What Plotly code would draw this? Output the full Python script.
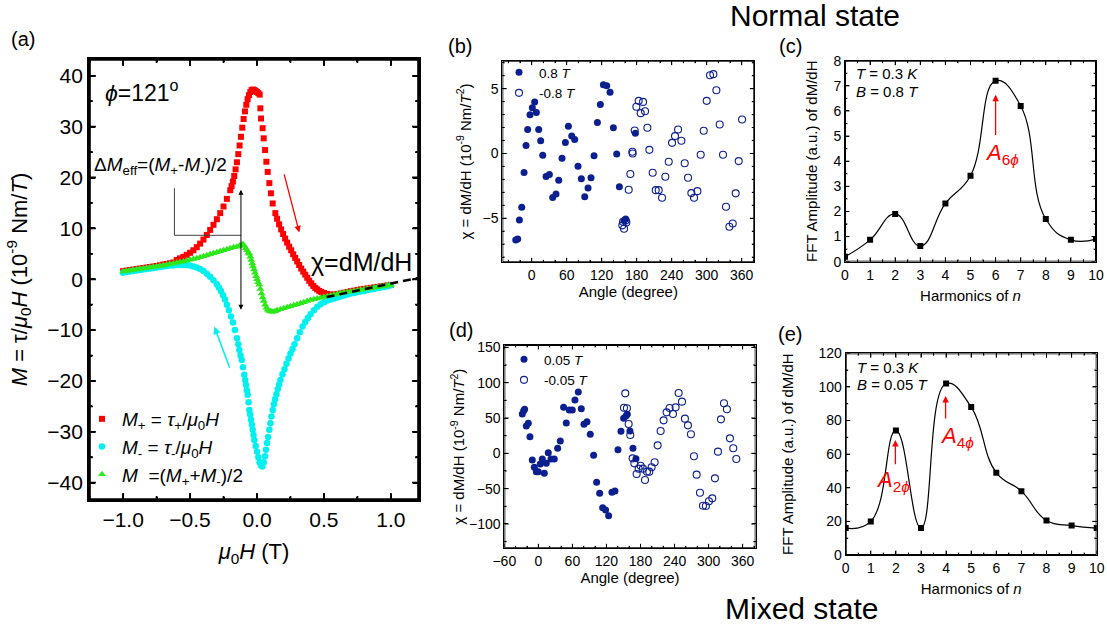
import plotly.graph_objects as go

FONT = "Liberation Sans, Arial, sans-serif"

# ---------------- Panel (a): M vs mu0H ----------------
Hp = [-1.000,-0.975,-0.950,-0.925,-0.900,-0.875,-0.850,-0.825,-0.800,-0.775,-0.750,-0.725,-0.700,-0.675,-0.650,-0.625,
      -0.600,-0.575,-0.550,-0.525,-0.500,-0.475,-0.450,-0.425,-0.400,-0.375,-0.350,-0.325,-0.300,-0.275,-0.250,-0.225,
      -0.200,-0.190,-0.180,-0.170,-0.160,-0.150,-0.140,-0.130,-0.120,-0.110,-0.100,-0.090,-0.080,-0.070,-0.060,-0.050,
      -0.040,-0.030,-0.020,-0.010,0.000,0.010,0.020,0.025,0.030,0.042,0.050,0.060,0.070,0.080,0.092,0.104,0.117,0.137,
      0.150,0.165,0.180,0.195,0.210,0.225,0.240,0.255,0.270,0.285,0.300,0.315,0.330,0.345,0.360,0.375,0.390,0.405,
      0.420,0.435,0.450,0.465,0.480,0.500,0.525,0.550,0.575,0.600,0.625,0.650,0.675,0.700,0.725,0.750,0.775,0.800,
      0.825,0.850,0.875,0.900,0.925,0.950,0.975,1.000]
Mp = [1.6,1.7,1.8,1.9,2.0,2.1,2.2,2.3,2.4,2.5,2.6,2.75,2.9,3.0,3.15,3.3,
      3.8,4.1,4.4,4.8,5.2,5.7,6.3,7.0,7.8,8.7,9.7,10.7,11.8,13.0,14.3,15.8,
      17.5,18.3,19.2,20.3,21.6,23.0,24.6,26.3,28.0,29.8,31.5,33.0,34.3,35.4,36.2,36.8,
      37.2,37.3,37.2,37.0,36.8,36.6,36.3,33.6,31.6,29.7,27.7,25.4,23.1,21.1,18.9,16.9,14.9,13.0,
      11.9,10.8,9.8,8.9,8.0,7.2,6.4,5.7,4.9,4.2,3.5,2.8,2.1,1.5,0.9,0.3,-0.3,-0.8,
      -1.3,-1.7,-2.0,-2.3,-2.5,-2.7,-2.9,-3.0,-3.0,-2.9,-2.8,-2.65,-2.5,-2.35,-2.25,-2.1,-2.0,-1.9,
      -1.8,-1.7,-1.6,-1.5,-1.4,-1.3,-1.2,-1.1]

Hm = [-1.000,-0.975,-0.950,-0.925,-0.900,-0.875,-0.850,-0.825,-0.800,-0.775,-0.750,-0.725,-0.700,-0.675,-0.650,-0.625,
      -0.600,-0.575,-0.550,-0.525,-0.500,-0.475,-0.450,-0.425,-0.400,-0.375,-0.350,-0.325,-0.300,-0.285,-0.270,-0.255,
      -0.240,-0.225,-0.210,-0.195,-0.180,-0.165,-0.150,-0.140,-0.132,-0.123,-0.114,-0.105,-0.095,-0.088,-0.082,-0.076,
      -0.070,-0.063,-0.057,-0.051,-0.045,-0.038,-0.032,-0.026,-0.020,-0.010,0.000,0.010,0.020,0.030,0.040,0.050,0.060,
      0.067,0.075,0.083,0.092,0.100,0.108,0.117,0.126,0.135,0.145,0.155,0.165,0.175,0.190,0.205,0.220,0.235,0.250,
      0.265,0.280,0.300,0.320,0.340,0.360,0.380,0.400,0.425,0.450,0.475,0.500,0.525,0.550,0.575,0.600,0.625,0.650,
      0.675,0.700,0.725,0.750,0.775,0.800,0.825,0.850,0.875,0.900,0.925,0.950,0.975,1.000]
Mm = [1.3,1.4,1.5,1.6,1.7,1.8,1.9,2.0,2.1,2.2,2.3,2.4,2.5,2.6,2.7,2.7,
      2.8,2.8,2.8,2.8,2.7,2.5,2.3,2.0,1.6,1.1,0.5,-0.2,-1.0,-1.6,-2.3,-3.1,
      -4.0,-5.0,-6.1,-7.3,-8.5,-10.0,-11.6,-12.8,-13.9,-15.0,-15.9,-17.3,-18.8,-19.8,-20.8,-21.8,
      -22.7,-24.2,-25.7,-26.6,-27.6,-28.6,-29.6,-30.6,-31.6,-32.8,-33.9,-35.0,-36.0,-36.6,-36.8,-36.0,-34.8,
      -33.5,-32.2,-31.0,-29.6,-28.3,-27.0,-25.7,-24.6,-23.6,-22.6,-21.6,-20.7,-19.8,-18.7,-17.7,-16.6,-15.6,-14.6,
      -13.7,-12.8,-11.6,-10.4,-9.3,-8.4,-7.6,-6.9,-6.1,-5.4,-4.9,-4.5,-4.2,-4.0,-3.8,-3.6,-3.4,-3.2,
      -3.0,-2.8,-2.7,-2.5,-2.4,-2.3,-2.1,-2.0,-1.9,-1.7,-1.6,-1.5,-1.4,-1.2]

Hav = [-1.000,-0.975,-0.950,-0.925,-0.900,-0.875,-0.850,-0.825,-0.800,-0.775,-0.750,-0.725,-0.700,-0.675,-0.650,-0.625,
       -0.600,-0.575,-0.550,-0.525,-0.500,-0.475,-0.450,-0.425,-0.400,-0.375,-0.350,-0.325,-0.300,-0.275,-0.250,-0.225,
       -0.200,-0.175,-0.150,-0.130,-0.115,-0.105,-0.095,-0.085,-0.075,-0.065,-0.057,-0.050,-0.043,-0.036,-0.030,-0.022,
       -0.015,-0.007,0.000,0.008,0.017,0.025,0.034,0.042,0.050,0.060,0.070,0.080,0.090,0.100,0.110,0.120,0.135,0.150,
       0.175,0.200,0.225,0.250,0.275,0.300,0.325,0.350,0.375,0.400,0.425,0.450,0.475,0.500,0.525,0.550,0.575,0.600,
       0.625,0.650,0.675,0.700,0.725,0.750,0.775,0.800,0.825,0.850,0.875,0.900,0.925,0.950,0.975,1.000]
Mav = [1.5,1.6,1.7,1.8,1.9,2.0,2.1,2.2,2.3,2.4,2.5,2.6,2.7,2.85,3.0,3.1,
       3.25,3.4,3.5,3.7,3.85,4.0,4.15,4.3,4.5,4.7,4.9,5.1,5.3,5.5,5.7,5.9,
       6.1,6.3,6.4,6.6,6.8,6.9,6.6,6.1,5.7,5.2,5.0,4.4,3.8,3.1,2.5,1.9,
       1.3,0.6,0.0,-0.6,-1.1,-1.9,-2.8,-3.6,-4.3,-5.0,-5.6,-6.0,-6.2,-6.3,-6.4,-6.4,-6.3,-6.1,
       -5.9,-5.7,-5.5,-5.3,-5.1,-4.9,-4.7,-4.5,-4.3,-4.1,-3.95,-3.8,-3.65,-3.5,-3.35,-3.2,-3.05,-2.9,
       -2.75,-2.6,-2.5,-2.4,-2.3,-2.2,-2.05,-1.95,-1.85,-1.75,-1.65,-1.55,-1.45,-1.35,-1.25,-1.15]

chi_fit_H = [0.52, 1.21]
chi_fit_M = [-3.5, 0.3]

# ---------------- Panel (b): chi vs angle, 0.8 T ----------------
ang_b_pos = [-27.4,-24.0,-21.1,-17.1,-13.1,-9.7,-6.9,-2.9,1.1,5.1,8.0,12.0,15.4,18.9,24.6,30.3,36.0,41.7,46.3,52.0,
             57.7,62.9,68.6,73.7,79.4,85.1,90.9,96.6,101.7,106.9,112.6,117.7,122.9,128.6,134.3,140.0,145.7,150.3,
             158.3,161.1,177.7]
chi_b_pos = [-6.68,-6.60,-5.14,-4.16,-1.47,0.62,1.85,2.98,3.52,3.98,3.16,1.85,0.98,-0.13,-1.77,-1.62,-3.39,-3.13,-2.06,-0.36,
             0.85,2.11,1.34,1.08,-0.98,-1.95,-3.34,-2.67,-1.88,-0.18,2.39,3.78,5.30,5.22,4.73,1.98,-0.05,-2.57,
             -5.17,-5.06,1.57]
ang_b_neg = [155.4,158.3,156.6,161.1,162.3,166.3,169.1,172.6,173.1,176.6,179.4,183.4,186.9,190.9,194.3,198.3,201.7,207.4,
             212.6,217.7,223.4,229.1,234.9,240.6,245.7,250.9,256.6,262.3,268.0,273.7,278.3,284.0,289.7,294.9,300.0,
             305.7,311.4,316.6,322.3,328.0,333.1,338.9,344.6,349.7,354.9,360.6]
chi_b_neg = [-5.55,-5.81,-5.27,-5.17,-5.32,-2.80,-1.59,0.13,0.0,1.77,3.60,4.06,3.11,3.98,3.26,1.98,0.28,-1.49,
             -2.83,-2.83,-3.42,-1.80,-0.64,0.82,1.34,1.85,0.98,-0.75,-1.88,-3.06,-3.42,-2.91,-0.10,1.75,4.06,
             6.04,6.12,4.88,2.24,-0.10,-4.11,-5.66,-5.40,-3.08,-0.59,2.62]

# ---------------- Panel (d): chi vs angle, 0.05 T ----------------
ang_d_pos = [-28.3,-25.9,-24.2,-21.2,-17.7,-14.8,-10.7,-7.1,-3.6,-0.1,3.4,7.0,10.5,14.0,17.5,22.2,28.1,34.0,38.7,44.5,
             49.2,54.5,59.8,64.5,70.4,75.7,80.4,85.7,91.5,97.4,102.7,108.0,113.3,118.5,123.8,129.7,135.0,140.3,145.6,
             150.3,154.4,156.7,161.4,166.7,172.0]
chi_d_pos = [55.7,60.4,62.3,38.7,42.5,23.6,-9.4,-19.8,-25.9,-25.9,-15.1,-8.0,-28.3,-14.2,0.9,-8.0,-8.0,7.1,17.5,65.1,
             42.9,61.3,61.3,75.5,86.8,63.2,41.0,44.8,26.9,-2.8,-41.0,-56.6,-76.9,-80.2,-88.2,-55.2,-53.3,5.2,31.1,
             49.5,52.8,55.2,31.6,7.1,-7.5]
ang_d_neg = [150.9,153.2,156.1,159.1,162.0,166.1,169.1,173.2,176.7,180.2,184.3,187.9,191.4,195.5,199.6,204.9,210.2,
             215.5,220.7,226.0,231.3,237.2,241.9,247.2,253.1,258.3,263.6,268.9,274.2,278.9,284.8,290.1,295.3,300.6,
             306.5,311.2,316.5,321.8,327.1,332.3,337.6,343.5,348.8]
chi_d_neg = [64.6,84.9,63.7,41.5,25.9,-7.1,-14.2,-29.2,-21.7,-17.5,-21.7,-37.7,-25.9,-25.9,-19.8,-12.7,11.3,
             31.6,46.7,58.0,64.2,55.7,65.1,85.4,73.1,49.1,39.6,26.9,-4.2,-30.2,-55.7,-74.1,-74.5,-67.9,
             -63.7,-35.4,2.4,48.1,70.8,62.3,21.2,7.1,-8.0]

# ---------------- Panels (c), (e): FFT amplitudes ----------------
harm_n = [0, 1, 2, 3, 4, 5, 6, 7, 8, 9, 10]
fft_normal = [0.2, 0.87, 1.9, 0.62, 2.32, 3.42, 7.2, 6.2, 1.7, 0.87, 0.9]
fft_mixed = [16, 20, 74, 16, 102, 88, 49, 38, 20.5, 17.5, 16]

RED = "#ff0000"
CYAN = "#00f0f0"
GREEN = "#2de81a"
NAVY = "#0b1f8f"

fig = go.Figure()

# Panel (a)
fig.add_trace(go.Scatter(x=Hp, y=Mp, mode="markers", xaxis="x", yaxis="y",
                         marker=dict(symbol="square", size=6, color=RED),
                         name="<i>M</i><sub>+</sub> = <i>τ</i><sub>+</sub>/<i>μ</i><sub>0</sub><i>H</i>", legend="legend"))
fig.add_trace(go.Scatter(x=Hm, y=Mm, mode="markers", xaxis="x", yaxis="y",
                         marker=dict(symbol="circle", size=6.5, color=CYAN),
                         name="<i>M</i><sub>-</sub> = <i>τ</i><sub>-</sub>/<i>μ</i><sub>0</sub><i>H</i>", legend="legend"))
fig.add_trace(go.Scatter(x=Hav, y=Mav, mode="markers", xaxis="x", yaxis="y",
                         marker=dict(symbol="triangle-up", size=7, color=GREEN),
                         name="<i>M</i>\u00a0\u00a0=(<i>M</i><sub>+</sub>+<i>M</i><sub>-</sub>)/2", legend="legend"))
fig.add_trace(go.Scatter(x=chi_fit_H, y=chi_fit_M, mode="lines", xaxis="x", yaxis="y",
                         line=dict(color="black", width=2.5, dash="8px,5px"), showlegend=False))

# Panel (b)
fig.add_trace(go.Scatter(x=ang_b_pos, y=chi_b_pos, mode="markers", xaxis="x2", yaxis="y2",
                         marker=dict(symbol="circle", size=7, color=NAVY),
                         name="0.8 <i>T</i>", legend="legend2"))
fig.add_trace(go.Scatter(x=ang_b_neg, y=chi_b_neg, mode="markers", xaxis="x2", yaxis="y2",
                         marker=dict(symbol="circle-open", size=7, color=NAVY, line=dict(width=1.1)),
                         name="-0.8 <i>T</i>", legend="legend2"))

# Panel (c)
fig.add_trace(go.Scatter(x=harm_n, y=fft_normal, mode="lines", xaxis="x3", yaxis="y3",
                         line=dict(color="black", width=1.2, shape="spline", smoothing=1.3), showlegend=False))
fig.add_trace(go.Scatter(x=harm_n, y=fft_normal, mode="markers", xaxis="x3", yaxis="y3",
                         marker=dict(symbol="square", size=6, color="black"), showlegend=False))

# Panel (d)
fig.add_trace(go.Scatter(x=ang_d_pos, y=chi_d_pos, mode="markers", xaxis="x4", yaxis="y4",
                         marker=dict(symbol="circle", size=7, color=NAVY),
                         name="0.05 <i>T</i>", legend="legend3"))
fig.add_trace(go.Scatter(x=ang_d_neg, y=chi_d_neg, mode="markers", xaxis="x4", yaxis="y4",
                         marker=dict(symbol="circle-open", size=7, color=NAVY, line=dict(width=1.1)),
                         name="-0.05 <i>T</i>", legend="legend3"))

# Panel (e)
fig.add_trace(go.Scatter(x=harm_n, y=fft_mixed, mode="lines", xaxis="x5", yaxis="y5",
                         line=dict(color="black", width=1.2, shape="spline", smoothing=1.3), showlegend=False))
fig.add_trace(go.Scatter(x=harm_n, y=fft_mixed, mode="markers", xaxis="x5", yaxis="y5",
                         marker=dict(symbol="square", size=6, color="black"), showlegend=False))


def axis(domain, rng, tick0, dtick, fmt, minor_dtick, lw, tl, mtl, fs, title, tfs, standoff, anchor):
    return dict(domain=domain, range=rng, anchor=anchor,
                tickmode="linear", tick0=tick0, dtick=dtick, tickformat=fmt,
                showline=True, linecolor="black", linewidth=lw, mirror="allticks",
                ticks="inside", ticklen=tl, tickwidth=lw, tickcolor="black",
                showgrid=False, zeroline=False, automargin=False,
                tickfont=dict(size=fs, family=FONT, color="black"),
                minor=dict(ticks="inside", ticklen=mtl, tickwidth=lw, tickcolor="black",
                           dtick=minor_dtick, showgrid=False),
                title=dict(text=title, font=dict(size=tfs, family=FONT, color="black"), standoff=standoff))


W, Hh = 1107, 627
def dx(a, b):
    return [a / W, b / W]
def dy(top, bot):
    return [1 - bot / Hh, 1 - top / Hh]

layout = dict(width=W, height=Hh, margin=dict(l=0, r=0, t=0, b=0),
              paper_bgcolor="white", plot_bgcolor="rgba(0,0,0,0)",
              font=dict(family=FONT, color="black"), showlegend=True)

# axis specs: anchor, domain, range, tick0, dtick, fmt, minor dtick, line width, tick len, minor len, font, title, title size, standoff
AX = {
    "xaxis":  ("y",  dx(89, 419), [-1.255, 1.21], -1.0, 0.5, ".1f", 0.25, 1.8, 6, 3, 21,
               "<i>μ</i><sub>0</sub><i>H</i> (T)", 22, 14),
    "yaxis":  ("x",  dy(59, 500), [-43.4, 43.3], 0, 10, "d", 5, 1.8, 6, 3, 21,
               "<i>M</i> = τ/<i>μ</i><sub>0</sub><i>H</i> (10<sup>-9</sup> Nm/<i>T</i>)", 22, 14),
    "xaxis2": ("y2", dx(502.3, 754.3), [-50.4, 381.6], 0, 60, "d", 20, 1, 4, 2, 14, "Angle (degree)", 15, 0),
    "yaxis2": ("x2", dy(60.7, 262.3), [-8.4, 7.16], 0, 5, "d", 1, 1, 4, 2, 14,
               "χ = dM/dH (10<sup>-9</sup> Nm/<i>T</i><sup>2</sup>)", 15, 7),
    "xaxis3": ("y3", dx(845, 1096), [0, 10], 0, 1, "d", 0.5, 1, 4, 2, 14, "Harmonics of <i>n</i>", 15, 8),
    "yaxis3": ("x3", dy(60.7, 261.7), [0, 8], 0, 1, "d", 0.5, 1, 4, 2, 14, "FFT Amplitude (a.u.) of dM/dH", 15, 12),
    "xaxis4": ("y4", dx(504.3, 755.7), [-60, 383], -60, 60, "d", 20, 1, 4, 2, 14, "Angle (degree)", 15, 4),
    "yaxis4": ("x4", dy(345, 548.3), [-134.4, 153.3], 0, 50, "d", 25, 1, 4, 2, 14,
               "χ = dM/dH (10<sup>-9</sup> Nm/<i>T</i><sup>2</sup>)", 15, 0),
    "xaxis5": ("y5", dx(845.7, 1096.7), [0, 10], 0, 1, "d", 0.5, 1, 4, 2, 14, "Harmonics of <i>n</i>", 15, 8),
    "yaxis5": ("x5", dy(353.3, 555), [0, 120], 0, 20, "d", 10, 1, 4, 2, 14, "FFT Amplitude (a.u.) of dM/dH", 15, 21),
}
for name, spec in AX.items():
    anchor, dom, rng, t0, dt, fmt, mdt, lw, tl, mtl, fs, title, tfs, so = spec
    layout[name] = axis(dom, rng, t0, dt, fmt, mdt, lw, tl, mtl, fs, title, tfs, so, anchor)

leg_common = dict(xanchor="left", yanchor="top", bgcolor="rgba(0,0,0,0)", borderwidth=0,
                  tracegroupgap=0, itemsizing="trace")
layout["legend"] = dict(x=82 / W, y=1 - 400 / Hh, font=dict(size=19, family=FONT, color="black"), **leg_common)
layout["legend2"] = dict(x=499 / W, y=1 - 57 / Hh, font=dict(size=13.5, family=FONT, color="black"), **leg_common)
layout["legend3"] = dict(x=504 / W, y=1 - 344 / Hh, font=dict(size=13.5, family=FONT, color="black"), **leg_common)

fig.update_layout(**layout)

# ---- frame + inside ticks on all four sides, as data-referenced paths on each subplot's own axes ----
shapes = []
def tick_list(spec):
    rng, t0, dt, mdt, tl, mtl = spec[2], spec[3], spec[4], spec[6], spec[8], spec[9]
    out = []
    k0 = int((rng[0] - t0) // mdt) - 1
    k1 = int((rng[1] - t0) // mdt) + 1
    for k in range(k0, k1 + 1):
        v = round(t0 + k * mdt, 6)
        if v < rng[0] or v > rng[1]:
            continue
        r = (v - t0) / dt
        out.append((v, tl if abs(r - round(r)) < 1e-6 else mtl))
    return out

def frame_and_ticks(sfx):
    xs = AX["xaxis" + sfx]; ys = AX["yaxis" + sfx]
    xid = "x" + sfx; yid = "y" + sfx
    xr, yr = xs[2], ys[2]
    upx = (xr[1] - xr[0]) / ((xs[1][1] - xs[1][0]) * W)
    upy = (yr[1] - yr[0]) / ((ys[1][1] - ys[1][0]) * Hh)
    lw = xs[7]
    hx, hy = lw / 2 * upx, lw / 2 * upy
    x0, x1, y0, y1 = xr[0] + hx, xr[1] - hx, yr[0] + hy, yr[1] - hy
    line = dict(color="black", width=lw)
    shapes.append(dict(type="path", xref=xid, yref=yid, line=line, fillcolor="rgba(0,0,0,0)",
                       path=f"M {x0},{y0} L {x1},{y0} L {x1},{y1} L {x0},{y1} Z"))
    segs = []
    for v, L in tick_list(xs):
        segs.append(f"M {v},{y0} L {v},{y0 + L * upy} M {v},{y1} L {v},{y1 - L * upy}")
    shapes.append(dict(type="path", xref=xid, yref=yid, line=line, fillcolor="rgba(0,0,0,0)",
                       path=" ".join(segs)))
    segs = []
    for v, L in tick_list(ys):
        segs.append(f"M {x0},{v} L {x0 + L * upx},{v} M {x1},{v} L {x1 - L * upx},{v}")
    shapes.append(dict(type="path", xref=xid, yref=yid, line=line, fillcolor="rgba(0,0,0,0)",
                       path=" ".join(segs)))

for s in ("", "2", "3", "4", "5"):
    frame_and_ticks(s)

# bracket line for Delta M_eff label
shapes.append(dict(type="path", path="M -0.617,17.9 L -0.617,8.64 L -0.119,8.64", xref="x", yref="y",
                   line=dict(color="#444444", width=1)))
fig.update_layout(shapes=shapes)

ann = []
def txt(text, x, y, xref, yref, size, color="black", xanchor="center", yanchor="middle"):
    ann.append(dict(text=text, x=x, y=y, xref=xref, yref=yref, showarrow=False,
                    font=dict(size=size, family=FONT, color=color), xanchor=xanchor, yanchor=yanchor))

def arrow(x, y, ax, ay, xref, yref, color, width=1.2, side="end", head=2, size=1.0):
    ann.append(dict(text="", x=x, y=y, ax=ax, ay=ay, xref=xref, yref=yref, axref=xref, ayref=yref,
                    showarrow=True, arrowhead=head, startarrowhead=head, arrowside=side,
                    arrowsize=size, startarrowsize=size, arrowwidth=width, arrowcolor=color))

# panel labels and state titles
txt("(a)", 23 / W, 1 - 39 / Hh, "paper", "paper", 20)
txt("(b)", 460 / W, 1 - 46 / Hh, "paper", "paper", 20)
txt("(c)", 790 / W, 1 - 46 / Hh, "paper", "paper", 20)
txt("(d)", 461 / W, 1 - 330 / Hh, "paper", "paper", 20)
txt("(e)", 790 / W, 1 - 334 / Hh, "paper", "paper", 20)
txt("Normal state", 815 / W, 1 - 16 / Hh, "paper", "paper", 30)
txt("Mixed state", 801 / W, 1 - 608 / Hh, "paper", "paper", 30)

# panel (a) annotations
txt("<i>ϕ</i>=121<sup>o</sup>", -1.15, 37.0, "x", "y", 23, xanchor="left")
txt("Δ<i>M</i><sub>eff</sub>=(<i>M</i><sub>+</sub>-<i>M</i><sub>-</sub>)/2", -1.235, 22.3, "x", "y", 19, xanchor="left")
txt("χ=dM/dH", 0.78, 3.3, "x", "y", 25)
arrow(0.316, 9.2, 0.2, 20.9, "x", "y", RED, width=1.3)
arrow(-0.319, -9.3, -0.2, -17.7, "x", "y", CYAN, width=1.5)
arrow(-0.12, -6.0, -0.12, 17.9, "x", "y", "black", width=1, side="end+start")

# panel (c) annotations
txt("<i>T</i> = 0.3 <i>K</i>", 0.36, 7.5, "x3", "y3", 15, xanchor="left")
txt("<i>B</i> = 0.8 <i>T</i>", 0.36, 6.77, "x3", "y3", 15, xanchor="left")
arrow(6.0, 6.64, 6.0, 4.98, "x3", "y3", RED, width=1.3)
txt("<i>A</i><sub>6<i>ϕ</i></sub>", 6.25, 4.3, "x3", "y3", 22, color=RED)

# panel (e) annotations
txt("<i>T</i> = 0.3 <i>K</i>", 0.37, 111.4, "x5", "y5", 15, xanchor="left")
txt("<i>B</i> = 0.05 <i>T</i>", 0.37, 101.7, "x5", "y5", 15, xanchor="left")
arrow(1.98, 68.4, 1.98, 53.1, "x5", "y5", RED, width=1.3)
txt("<i>A</i><sub>2<i>ϕ</i></sub>", 1.9, 44.0, "x5", "y5", 22, color=RED)
arrow(3.98, 94.6, 3.98, 80.3, "x5", "y5", RED, width=1.3)
txt("<i>A</i><sub>4<i>ϕ</i></sub>", 4.42, 70.0, "x5", "y5", 22, color=RED)

fig.update_layout(annotations=ann)

fig.write_html("out.html", post_script="document.body.style.margin='0px';",
               config={"displayModeBar": False})
